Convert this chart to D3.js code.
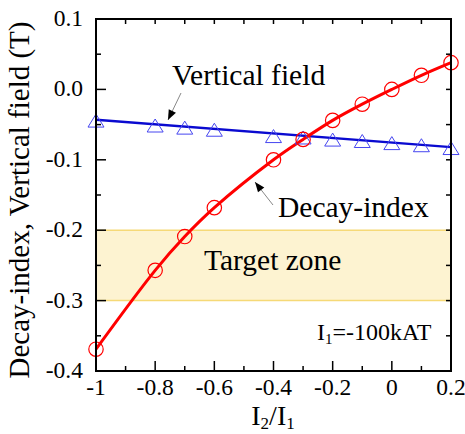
<!DOCTYPE html>
<html><head><meta charset="utf-8">
<script src="https://cdn.jsdelivr.net/npm/d3@7"></script>
<style>body{margin:0;background:#fff}svg{display:block}text{font-family:"Liberation Serif","Times New Roman",serif;fill:#000}</style>
</head><body>
<script>
const xVals = [-1, -0.8, -0.7, -0.6, -0.4, -0.3, -0.2, -0.1, 0, 0.1, 0.2];
const decayIndex = [-0.369, -0.257, -0.209, -0.168, -0.100, -0.071, -0.044, -0.021, 0.000, 0.020, 0.038];
const verticalField = [-0.045, -0.052, -0.055, -0.058, -0.067, -0.069, -0.072, -0.074, -0.077, -0.080, -0.084];
const vfFitX = [-1, 0.2];
const vfFitY = [-0.043, -0.082];
const targetZone = [-0.3, -0.2];
const xTickLabels = ["-1", "-0.8", "-0.6", "-0.4", "-0.2", "0", "0.2"];
const yTickLabels = ["-0.4", "-0.3", "-0.2", "-0.1", "0.0", "0.1"];

const W = 465, H = 434;
const L = 96, R = 451, T = 19, B = 371;
const svg = d3.select("body").append("svg").attr("width", W).attr("height", H);
const x = d3.scaleLinear().domain([-1, 0.2]).range([L, R]);
const y = d3.scaleLinear().domain([-0.4, 0.1]).range([B, T]);

// target zone
svg.append("rect").attr("x", L).attr("width", R - L)
  .attr("y", y(targetZone[1])).attr("height", y(targetZone[0]) - y(targetZone[1]))
  .attr("fill", "#fdf3d1");
targetZone.forEach(v => svg.append("line").attr("x1", L).attr("x2", R).attr("y1", y(v)).attr("y2", y(v))
  .attr("stroke", "#f6d977").attr("stroke-width", 1.5));

// blue fit line
svg.append("path").datum(vfFitX.map((d, i) => [d, vfFitY[i]]))
  .attr("d", d3.line().x(d => x(d[0])).y(d => y(d[1])))
  .attr("fill", "none").attr("stroke", "#0a0ad0").attr("stroke-width", 2.5);
// red curve
svg.append("path").datum(xVals.map((d, i) => [d, decayIndex[i]]))
  .attr("d", d3.line().x(d => x(d[0])).y(d => y(d[1])).curve(d3.curveCatmullRom))
  .attr("fill", "none").attr("stroke", "#ff0000").attr("stroke-width", 3);

// triangles
svg.append("g").selectAll("path").data(xVals.map((d, i) => [d, verticalField[i]])).join("path")
  .attr("transform", d => `translate(${x(d[0])},${y(d[1])})`)
  .attr("d", "M0,-7L8,6L-8,6Z").attr("fill", "none").attr("stroke", "#4646f0").attr("stroke-width", 1);
// circles
svg.append("g").selectAll("circle").data(xVals.map((d, i) => [d, decayIndex[i]])).join("circle")
  .attr("cx", d => x(d[0])).attr("cy", d => y(d[1])).attr("r", 7.2)
  .attr("fill", "none").attr("stroke", "#ff0000").attr("stroke-width", 1.2);

// axes
const bottomMajor = d3.range(-1, 0.2001, 0.2);
const minorX = d3.range(-0.9, 0.2, 0.2);
const allX = d3.range(-1, 0.2001, 0.1);
const majorY = d3.range(-0.4, 0.1001, 0.1);
const minorY = d3.range(-0.35, 0.1, 0.1);
const allY = d3.range(-0.4, 0.1001, 0.05);

const ax = svg.append("g").attr("stroke", "#000").attr("stroke-width", 1.5);
bottomMajor.forEach(v => ax.append("line").attr("x1", x(v)).attr("x2", x(v)).attr("y1", B).attr("y2", B - 10));
minorX.forEach(v => ax.append("line").attr("x1", x(v)).attr("x2", x(v)).attr("y1", B).attr("y2", B - 5));
allX.forEach(v => ax.append("line").attr("x1", x(v)).attr("x2", x(v)).attr("y1", T).attr("y2", T + 5));
majorY.forEach(v => ax.append("line").attr("x1", L).attr("x2", L + 10).attr("y1", y(v)).attr("y2", y(v)));
minorY.forEach(v => ax.append("line").attr("x1", L).attr("x2", L + 5).attr("y1", y(v)).attr("y2", y(v)));
allY.forEach(v => ax.append("line").attr("x1", R).attr("x2", R - 5).attr("y1", y(v)).attr("y2", y(v)));
svg.append("rect").attr("x", L).attr("y", T).attr("width", R - L).attr("height", B - T)
  .attr("fill", "none").attr("stroke", "#000").attr("stroke-width", 2);

// tick labels
svg.append("g").selectAll("text").data(bottomMajor).join("text")
  .attr("x", d => x(d)).attr("y", 395).attr("text-anchor", "middle").attr("font-size", 23.5)
  .text((d, i) => xTickLabels[i]);
svg.append("g").selectAll("text").data(majorY).join("text")
  .attr("x", 83).attr("y", d => y(d) + 7).attr("text-anchor", "end").attr("font-size", 23.5)
  .text((d, i) => yTickLabels[i]);

// axis titles
const xt = svg.append("text").attr("x", 273).attr("y", 425).attr("text-anchor", "middle").attr("font-size", 28);
xt.append("tspan").text("I");
xt.append("tspan").attr("font-size", 17).attr("dy", 4).text("2");
xt.append("tspan").attr("dy", -4).text("/I");
xt.append("tspan").attr("font-size", 17).attr("dy", 4).text("1");
svg.append("text").attr("transform", "translate(29,200) rotate(-90)").attr("text-anchor", "middle")
  .attr("font-size", 29).text("Decay-index, Vertical field (T)");

// annotations
svg.append("text").attr("x", 172).attr("y", 85).attr("font-size", 29.5).text("Vertical field");
svg.append("text").attr("x", 278).attr("y", 217).attr("font-size", 29.5).text("Decay-index");
svg.append("text").attr("x", 204).attr("y", 270).attr("font-size", 29.5).text("Target zone");
const it = svg.append("text").attr("x", 317).attr("y", 340).attr("font-size", 24);
it.append("tspan").text("I");
it.append("tspan").attr("font-size", 15).attr("dy", 4).text("1");
it.append("tspan").attr("dy", -4).text("=-100kAT");

// arrows
function arrow(x1, y1, x2, y2) {
  svg.append("line").attr("x1", x1).attr("y1", y1).attr("x2", x2).attr("y2", y2)
    .attr("stroke", "#888").attr("stroke-width", 1);
  const a = Math.atan2(y2 - y1, x2 - x1) * 180 / Math.PI;
  svg.append("path").attr("d", "M0,0L-10,-4L-10,4Z").attr("fill", "#000")
    .attr("transform", `translate(${x2},${y2}) rotate(${a})`);
}
arrow(181, 93, 168, 120);
arrow(273, 205, 255, 182);
</script>
</body></html>
